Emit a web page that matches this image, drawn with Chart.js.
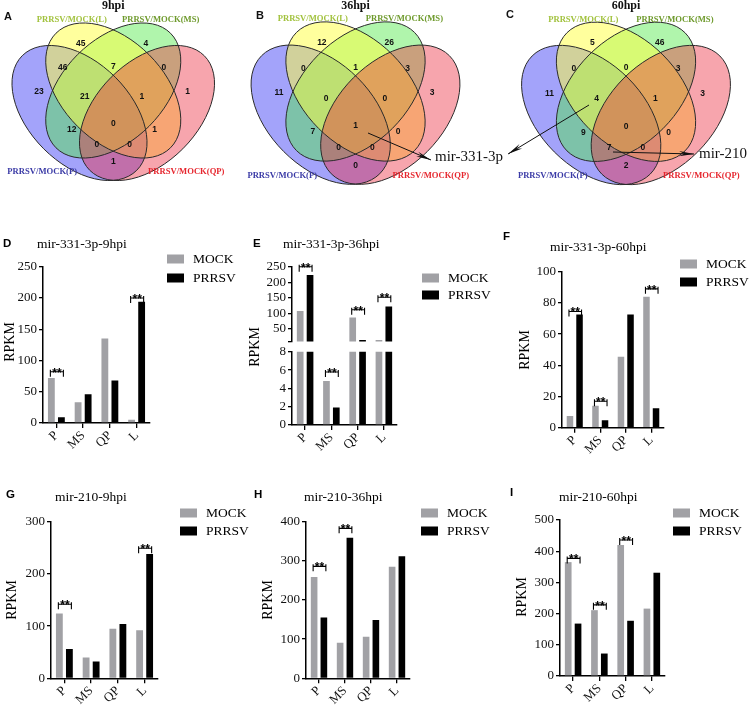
<!DOCTYPE html>
<html lang="en">
<head>
    <meta charset="UTF-8">
    <title>PRRSV miRNA Venn and RPKM panels</title>
    <script src="https://cdn.jsdelivr.net/npm/chart.js"></script>
    <style>
        body { margin: 0; background: #fff; }
        #fig { position: relative; width: 756px; height: 710px; overflow: hidden; background: #fff; }
        #fig canvas { position: absolute; }
    </style>
</head>
<body>
<div id="fig"></div>
<script>
// ---- data ----
const categories = ['P', 'MS', 'QP', 'L'];
const seriesNames = ['MOCK', 'PRRSV'];

const mir331_9hpi_mock   = [72, 33, 135, 5];
const mir331_9hpi_prrsv  = [9, 46, 68, 194];
const mir331_36hpi_mock  = [108, 4.8, 87, 15];
const mir331_36hpi_prrsv = [223, 1.9, 15, 122];
const mir331_60hpi_mock  = [7.5, 14, 45.5, 84];
const mir331_60hpi_prrsv = [72.5, 4.7, 72.5, 12.4];
const mir210_9hpi_mock   = [124, 40, 95, 92];
const mir210_9hpi_prrsv  = [56, 32, 104, 238];
const mir210_36hpi_mock  = [259, 91, 106, 285];
const mir210_36hpi_prrsv = [155, 359, 149, 312];
const mir210_60hpi_mock  = [365, 211, 420, 216];
const mir210_60hpi_prrsv = [168, 72, 177, 331];

// significance marks (category, bracket level in RPKM)
const sig331_9  = [['P', 82], ['L', 200]];
const sig331_36 = [['P', 250], ['QP', 112], ['L', 152]];
const sig331_36low = [['MS', 5.8]];
const sig331_60 = [['P', 74.5], ['MS', 17], ['L', 89]];
const sig210_9  = [['P', 142], ['L', 249]];
const sig210_36 = [['P', 286], ['MS', 383]];
const sig210_60 = [['P', 377], ['MS', 228], ['QP', 436]];

// venn
const vennTitles = ['9hpi', '36hpi', '60hpi'];
const vennSets = ['PRRSV/MOCK(L)', 'PRRSV/MOCK(MS)', 'PRRSV/MOCK(P)', 'PRRSV/MOCK(QP)'];
const vennRegions = ['L', 'MS', 'P', 'QP', 'L&MS', 'P&L', 'MS&QP', 'P&L&MS', 'L&MS&QP',
                     'P&L&MS&QP', 'P&MS', 'L&QP', 'P&MS&QP', 'P&L&QP', 'P&QP'];
const venn9hpi  = [45, 4, 23, 1, 7, 46, 0, 21, 1, 0, 12, 1, 0, 0, 1];
const venn36hpi = [12, 26, 11, 3, 1, 0, 3, 0, 0, 1, 7, 0, 0, 0, 0];
const venn60hpi = [5, 46, 11, 3, 0, 0, 3, 4, 1, 0, 9, 0, 7, 0, 2];

// ---- layout ----
const fig = document.getElementById('fig');
const serif = '"Liberation Serif", "Times New Roman", serif';
const sans = '"Liberation Sans", Arial, sans-serif';
const mockColor = '#a1a1a5';
const prrsvColor = '#000000';

function addCanvas(box) {
    const c = document.createElement('canvas');
    c.width = box.w; c.height = box.h;
    c.style.left = box.x + 'px'; c.style.top = box.y + 'px';
    c.style.width = box.w + 'px'; c.style.height = box.h + 'px';
    fig.appendChild(c);
    return c;
}

// venn geometry, unit ellipses relative to an anchor (y up); drawn in this order
const vennAnchors = [{x: 113.25, y: 113, s: 225}, {x: 355.5, y: 114.7, s: 232}, {x: 626, y: 115, s: 232}];
const ellipses = [
    {set: 2, dx: -0.15, dy: 0,   rot: 45,  fill: 'rgba(78,78,246,0.52)'},   // P
    {set: 1, dx: 0,     dy: 0.1, rot: -45, fill: 'rgba(80,232,70,0.45)'},   // MS
    {set: 0, dx: 0,     dy: 0.1, rot: 45,  fill: 'rgba(255,255,60,0.50)'},  // L
    {set: 3, dx: 0.15,  dy: 0,   rot: -45, fill: 'rgba(235,40,60,0.42)'}    // QP
];
const regionPos = [[-0.145, 0.31], [0.145, 0.31], [-0.33, 0.093], [0.33, 0.093], [0, 0.204],
    [-0.225, 0.2], [0.225, 0.2], [-0.127, 0.071], [0.127, 0.071], [0, -0.049],
    [-0.184, -0.074], [0.184, -0.074], [-0.073, -0.142], [0.073, -0.142], [0, -0.218]];
const setLabelPos = [[-42, -94], [48, -94], [-72, 60], [74, 60]];
const setColors = ['#a2c23e', '#6e9a2c', '#3a3aa6', '#e6262e'];
const vennLetters = ['A', 'B', 'C'];
const vennLetterPos = [[8, 17], [260, 16], [510, 15]];
const arrows = [
    {from: [368, 133], to: [431, 160]},
    {from: [589, 105], to: [508, 154]},
    {from: [613, 152], to: [694, 154]}
];
const notes = [['mir-331-3p', 435, 157], ['mir-210', 699, 154]];

const vennPlugin = {
    id: 'venn',
    beforeDatasetsDraw(chart) {
        const ctx = chart.ctx, xs = chart.scales.x, ys = chart.scales.y;
        ctx.save();
        vennAnchors.forEach(a => {
            const shapes = ellipses.map(e => ({
                cx: xs.getPixelForValue(a.x + e.dx * a.s),
                cy: ys.getPixelForValue(a.y - e.dy * a.s),
                rx: 0.36 * a.s, ry: 0.225 * a.s, rot: e.rot * Math.PI / 180, fill: e.fill
            }));
            shapes.forEach(s => {
                ctx.beginPath();
                ctx.ellipse(s.cx, s.cy, s.rx, s.ry, s.rot, 0, Math.PI * 2);
                ctx.fillStyle = s.fill;
                ctx.fill();
            });
            ctx.strokeStyle = '#2a2a2a';
            ctx.lineWidth = 1;
            shapes.forEach(s => {
                ctx.beginPath();
                ctx.ellipse(s.cx, s.cy, s.rx, s.ry, s.rot, 0, Math.PI * 2);
                ctx.stroke();
            });
        });
        ctx.restore();
    },
    afterDatasetsDraw(chart) {
        const ctx = chart.ctx;
        ctx.save();
        ctx.textAlign = 'center';
        ctx.textBaseline = 'middle';
        ctx.fillStyle = '#111';
        ctx.font = 'bold 8.5px ' + sans;
        chart.data.datasets.forEach((ds, k) => {
            chart.getDatasetMeta(k).data.forEach((pt, i) => {
                ctx.fillText(String(ds.counts[i]), pt.x, pt.y);
            });
        });
        vennAnchors.forEach((a, k) => {
            const f = a.s / 228;
            ctx.font = 'bold 8.6px ' + serif;
            vennSets.forEach((name, i) => {
                ctx.fillStyle = setColors[i];
                ctx.fillText(name, a.x + setLabelPos[i][0] * f, a.y + setLabelPos[i][1] * f);
            });
            ctx.fillStyle = '#111';
            ctx.font = 'bold 12px ' + serif;
            ctx.fillText(vennTitles[k], a.x, 6);
            ctx.font = 'bold 11px ' + sans;
            ctx.fillText(vennLetters[k], vennLetterPos[k][0], vennLetterPos[k][1]);
        });
        // arrows to the shared miRNAs
        ctx.strokeStyle = '#111';
        ctx.fillStyle = '#111';
        ctx.lineWidth = 1;
        arrows.forEach(ar => {
            const [x1, y1] = ar.from, [x2, y2] = ar.to;
            const ang = Math.atan2(y2 - y1, x2 - x1);
            ctx.beginPath(); ctx.moveTo(x1, y1); ctx.lineTo(x2, y2); ctx.stroke();
            ctx.beginPath();
            ctx.moveTo(x2, y2);
            ctx.lineTo(x2 - 15 * Math.cos(ang) + 2.6 * Math.sin(ang), y2 - 15 * Math.sin(ang) - 2.6 * Math.cos(ang));
            ctx.lineTo(x2 - 10 * Math.cos(ang), y2 - 10 * Math.sin(ang));
            ctx.lineTo(x2 - 15 * Math.cos(ang) - 2.6 * Math.sin(ang), y2 - 15 * Math.sin(ang) + 2.6 * Math.cos(ang));
            ctx.closePath();
            ctx.fill();
        });
        ctx.textAlign = 'left';
        ctx.font = '15px ' + serif;
        notes.forEach(n => ctx.fillText(n[0], n[1], n[2]));
        ctx.restore();
    }
};

const vennCounts = [venn9hpi, venn36hpi, venn60hpi];
new Chart(addCanvas({x: 0, y: 0, w: 756, h: 186}), {
    type: 'scatter',
    data: {
        datasets: vennCounts.map((counts, k) => ({
            label: vennTitles[k],
            counts: counts,
            data: vennRegions.map((r, i) => ({
                x: vennAnchors[k].x + regionPos[i][0] * vennAnchors[k].s,
                y: vennAnchors[k].y - regionPos[i][1] * vennAnchors[k].s
            })),
            pointRadius: 0
        }))
    },
    options: {
        responsive: false, animation: false, events: [],
        layout: {padding: 0},
        plugins: {legend: {display: false}, tooltip: {enabled: false}},
        scales: {
            x: {type: 'linear', min: 0, max: 756, display: false},
            y: {type: 'linear', min: 0, max: 186, reverse: true, display: false}
        }
    },
    plugins: [vennPlugin]
});

// ---- bar panels ----
const tickFont = {family: serif, size: 13};

function decorPlugin(p) {
    return {
        id: 'decor',
        afterDraw(chart) {
            const ctx = chart.ctx, ox = p.box.x, oy = p.box.y;
            ctx.save();
            ctx.fillStyle = '#000';
            ctx.textBaseline = 'middle';
            if (p.letter) {
                ctx.font = 'bold 11.5px ' + sans;
                ctx.textAlign = 'left';
                ctx.fillText(p.letter[0], p.letter[1] - ox, p.letter[2] - oy);
            }
            if (p.title) {
                ctx.font = '13.5px ' + serif;
                ctx.textAlign = 'left';
                ctx.fillText(p.title[0], p.title[1] - ox, p.title[2] - oy);
            }
            if (p.ylab) {
                ctx.save();
                ctx.translate(p.ylab[0] - ox, p.ylab[1] - oy);
                ctx.rotate(-Math.PI / 2);
                ctx.textAlign = 'center';
                ctx.font = '14px ' + serif;
                ctx.fillText('RPKM', 0, 0);
                ctx.restore();
            }
            if (p.legend) {
                ctx.font = '13.5px ' + serif;
                ctx.textAlign = 'left';
                chart.data.datasets.forEach((ds, i) => {
                    const cy = p.legend[1] + i * p.legend[2] - oy;
                    ctx.fillStyle = ds.backgroundColor;
                    ctx.fillRect(p.legend[0] - ox, cy - 4.5, 17, 9);
                    ctx.fillStyle = '#000';
                    ctx.fillText(ds.label, p.legend[0] + 26 - ox, cy);
                });
            }
            ctx.strokeStyle = '#000';
            ctx.lineWidth = 1.1;
            (p.sig || []).forEach(s => {
                const i = categories.indexOf(s[0]);
                const m = chart.getDatasetMeta(0).data[i], q = chart.getDatasetMeta(1).data[i];
                const y = chart.scales.y.getPixelForValue(s[1]);
                const x1 = m.x - 1, x2 = q.x + 2;
                ctx.beginPath();
                ctx.moveTo(x1, y - 2); ctx.lineTo(x1, y + 5);
                ctx.moveTo(x1, y); ctx.lineTo(x2, y);
                ctx.moveTo(x2, y - 2); ctx.lineTo(x2, y + 5);
                ctx.stroke();
                ctx.font = 'bold 12px ' + sans;
                ctx.textAlign = 'center';
                ctx.textBaseline = 'alphabetic';
                ctx.fillText('**', (x1 + x2) / 2, y + 5);
                ctx.textBaseline = 'middle';
            });
            ctx.restore();
        }
    };
}

function barPanel(p) {
    const showX = p.showX !== false;
    const pl = p.plot;
    return new Chart(addCanvas(p.box), {
        type: 'bar',
        data: {
            labels: categories,
            datasets: [
                {label: seriesNames[0], data: p.mock, backgroundColor: mockColor, clip: 0},
                {label: seriesNames[1], data: p.prrsv, backgroundColor: prrsvColor, clip: 0}
            ]
        },
        options: {
            responsive: false, animation: false, events: [],
            layout: {padding: {
                left: 0,
                top: pl.t - p.box.y,
                right: p.box.x + p.box.w - pl.r,
                bottom: showX ? 0 : p.box.y + p.box.h - pl.b
            }},
            datasets: {bar: {categoryPercentage: 0.75, barPercentage: 0.68}},
            plugins: {legend: {display: false}, tooltip: {enabled: false}},
            scales: {
                x: {
                    display: showX,
                    grid: {drawOnChartArea: false, drawTicks: true, tickLength: 5, offset: false, color: '#000', lineWidth: 1.3},
                    border: {color: '#000', width: 1.5},
                    ticks: {font: tickFont, color: '#111', maxRotation: 45, minRotation: 45, autoSkip: false, padding: 0},
                    afterFit: showX ? s => { s.height = p.box.y + p.box.h - pl.b; } : undefined
                },
                y: {
                    min: p.yMin || 0, max: p.yMax,
                    ticks: {
                        stepSize: p.yStep, font: tickFont, color: '#111', padding: 2, autoSkip: false,
                        callback: v => (p.yBlank && p.yBlank.includes(v)) ? '' : v
                    },
                    grid: {drawOnChartArea: false, drawTicks: true, tickLength: 4, color: '#000', lineWidth: 1.3},
                    border: {color: '#000', width: 1.5},
                    afterBuildTicks: p.yTicks ? s => { s.ticks = p.yTicks.map(v => ({value: v})); } : undefined,
                    afterFit: s => { s.width = pl.l - p.box.x; }
                }
            }
        },
        plugins: [decorPlugin(p)]
    });
}

barPanel({
    box: {x: 0, y: 228, w: 250, h: 226}, plot: {l: 43, t: 266.7, r: 150, b: 423},
    mock: mir331_9hpi_mock, prrsv: mir331_9hpi_prrsv, yMax: 250, yStep: 50, sig: sig331_9,
    letter: ['D', 3, 244], title: ['mir-331-3p-9hpi', 37, 244], ylab: [10, 342], legend: [167, 259, 19]
});
barPanel({
    box: {x: 245, y: 228, w: 255, h: 152}, plot: {l: 292, t: 266.7, r: 397, b: 341.5}, showX: false,
    mock: mir331_36hpi_mock, prrsv: mir331_36hpi_prrsv, yMin: 10, yMax: 250,
    yTicks: [10, 50, 100, 150, 200, 250], yBlank: [10], sig: sig331_36,
    letter: ['E', 253, 244], title: ['mir-331-3p-36hpi', 283, 244], ylab: [255, 347], legend: [422, 278, 17]
});
barPanel({
    box: {x: 245, y: 342, w: 255, h: 116}, plot: {l: 292, t: 351.7, r: 397, b: 425},
    mock: mir331_36hpi_mock, prrsv: mir331_36hpi_prrsv, yMax: 8, yStep: 2, sig: sig331_36low
});
barPanel({
    box: {x: 500, y: 228, w: 256, h: 230}, plot: {l: 562, t: 271.7, r: 664, b: 427.7},
    mock: mir331_60hpi_mock, prrsv: mir331_60hpi_prrsv, yMax: 100, yStep: 20, sig: sig331_60,
    letter: ['F', 503, 237], title: ['mir-331-3p-60hpi', 550, 247], ylab: [525, 350], legend: [680, 264, 18]
});
barPanel({
    box: {x: 0, y: 478, w: 250, h: 232}, plot: {l: 51, t: 521.7, r: 158, b: 678.3},
    mock: mir210_9hpi_mock, prrsv: mir210_9hpi_prrsv, yMax: 300, yStep: 100, sig: sig210_9,
    letter: ['G', 6, 495], title: ['mir-210-9hpi', 55, 497], ylab: [12, 600], legend: [180, 513, 18]
});
barPanel({
    box: {x: 245, y: 478, w: 255, h: 232}, plot: {l: 306, t: 521.7, r: 410, b: 678.3},
    mock: mir210_36hpi_mock, prrsv: mir210_36hpi_prrsv, yMax: 400, yStep: 100, sig: sig210_36,
    letter: ['H', 254, 495], title: ['mir-210-36hpi', 304, 497], ylab: [268, 600], legend: [421, 513, 18]
});
barPanel({
    box: {x: 500, y: 478, w: 256, h: 232}, plot: {l: 560, t: 520, r: 665, b: 676},
    mock: mir210_60hpi_mock, prrsv: mir210_60hpi_prrsv, yMax: 500, yStep: 100, sig: sig210_60,
    letter: ['I', 510, 493], title: ['mir-210-60hpi', 559, 497], ylab: [522, 597], legend: [673, 513, 18]
});
</script>
</body>
</html>
